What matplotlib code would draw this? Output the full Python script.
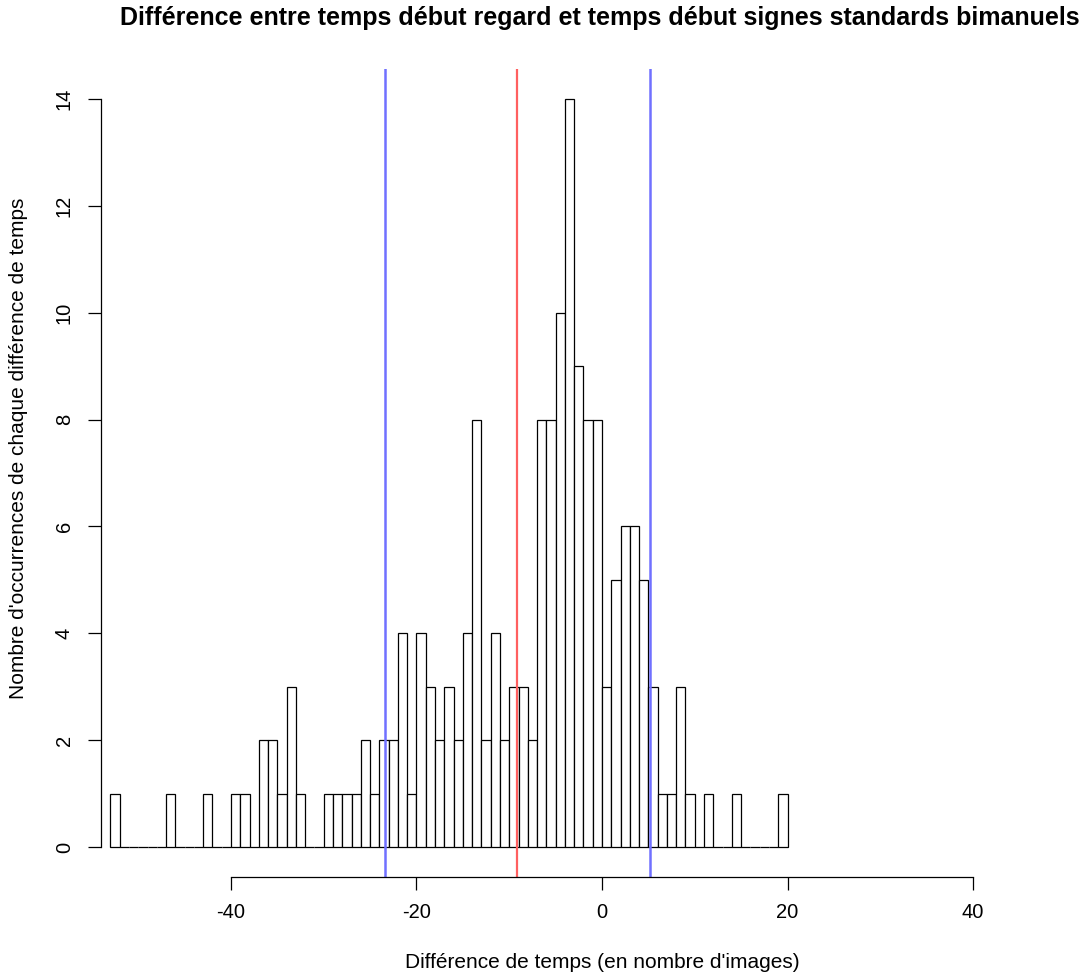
import numpy as np
import matplotlib.pyplot as plt

# histogram bins of width 1, left edges from -53 to 19
bin_left = np.arange(-53, 20)
counts = [1, 0, 0, 0, 0, 0, 1, 0, 0, 0,      # -53 .. -44
          1, 0, 0, 1, 1, 0, 2, 2, 1, 3,      # -43 .. -34
          1, 0, 0, 1, 1, 1, 1, 2, 1, 2,      # -33 .. -24
          2, 4, 1, 4, 3, 2, 3, 2, 4, 8,      # -23 .. -14
          2, 4, 2, 3, 3, 2, 8, 8, 10, 14,    # -13 .. -4
          9, 8, 8, 3, 5, 6, 6, 5, 3, 1,      # -3 .. 6
          1, 3, 1, 0, 1, 0, 0, 1, 0, 0,      # 7 .. 16
          0, 0, 1]                           # 17 .. 19

mean_line = -9.15
bounds = [-23.4, 5.2]

xticks = [-40, -20, 0, 20, 40]
yticks = [0, 2, 4, 6, 8, 10, 12, 14]

plt.rcParams['font.family'] = ['Liberation Sans', 'DejaVu Sans']
plt.rcParams['axes.unicode_minus'] = False

W, H = 1082, 976
fig = plt.figure(figsize=(W / 100, H / 100), dpi=100, facecolor='white')

# plot region in pixels (R style)
left_px, right_px = 101, 1082
top_px, bottom_px = 69, 877
ax = fig.add_axes([left_px / W, (H - bottom_px) / H,
                   (right_px - left_px) / W, (bottom_px - top_px) / H])

ppu = 9.275
x0 = 602
ax.set_xlim((left_px - x0) / ppu, (right_px - x0) / ppu)
ax.set_ylim(-0.56, 14.56)

ax.bar(bin_left, counts, width=1, align='edge', color='white',
       edgecolor='black', linewidth=0.9)

ax.axvline(mean_line, color='#ff6060', linewidth=1.6)
for b in bounds:
    ax.axvline(b, color='#7070ff', linewidth=1.8)

for s in ['top', 'right']:
    ax.spines[s].set_visible(False)
ax.spines['bottom'].set_bounds(-40, 40)
ax.spines['left'].set_bounds(0, 14)
ax.spines['left'].set_linewidth(0.9)
ax.spines['bottom'].set_linewidth(0.9)

ax.set_xticks(xticks)
ax.set_yticks(yticks)
ax.tick_params(axis='both', direction='out', length=9.5, width=0.9,
               labelsize=14.5, colors='black')
ax.tick_params(axis='x', pad=9)
ax.tick_params(axis='y', pad=10)
for lab in ax.get_yticklabels():
    lab.set_rotation(90)
    lab.set_va('center')

fig.text(600 / W, 1 - 25 / H,
         "Différence entre temps début regard et temps début signes standards bimanuels",
         ha='center', va='baseline', fontsize=18, fontweight='bold')
fig.text(602 / W, 1 - 962 / H, "Différence de temps (en nombre d'images)",
         ha='center', va='center', fontsize=15)
fig.text(19 / W, 1 - 448 / H, "Nombre d'occurrences de chaque différence de temps",
         ha='center', va='center', fontsize=15, rotation=90)

fig.savefig('out.png', dpi=100, facecolor='white')
